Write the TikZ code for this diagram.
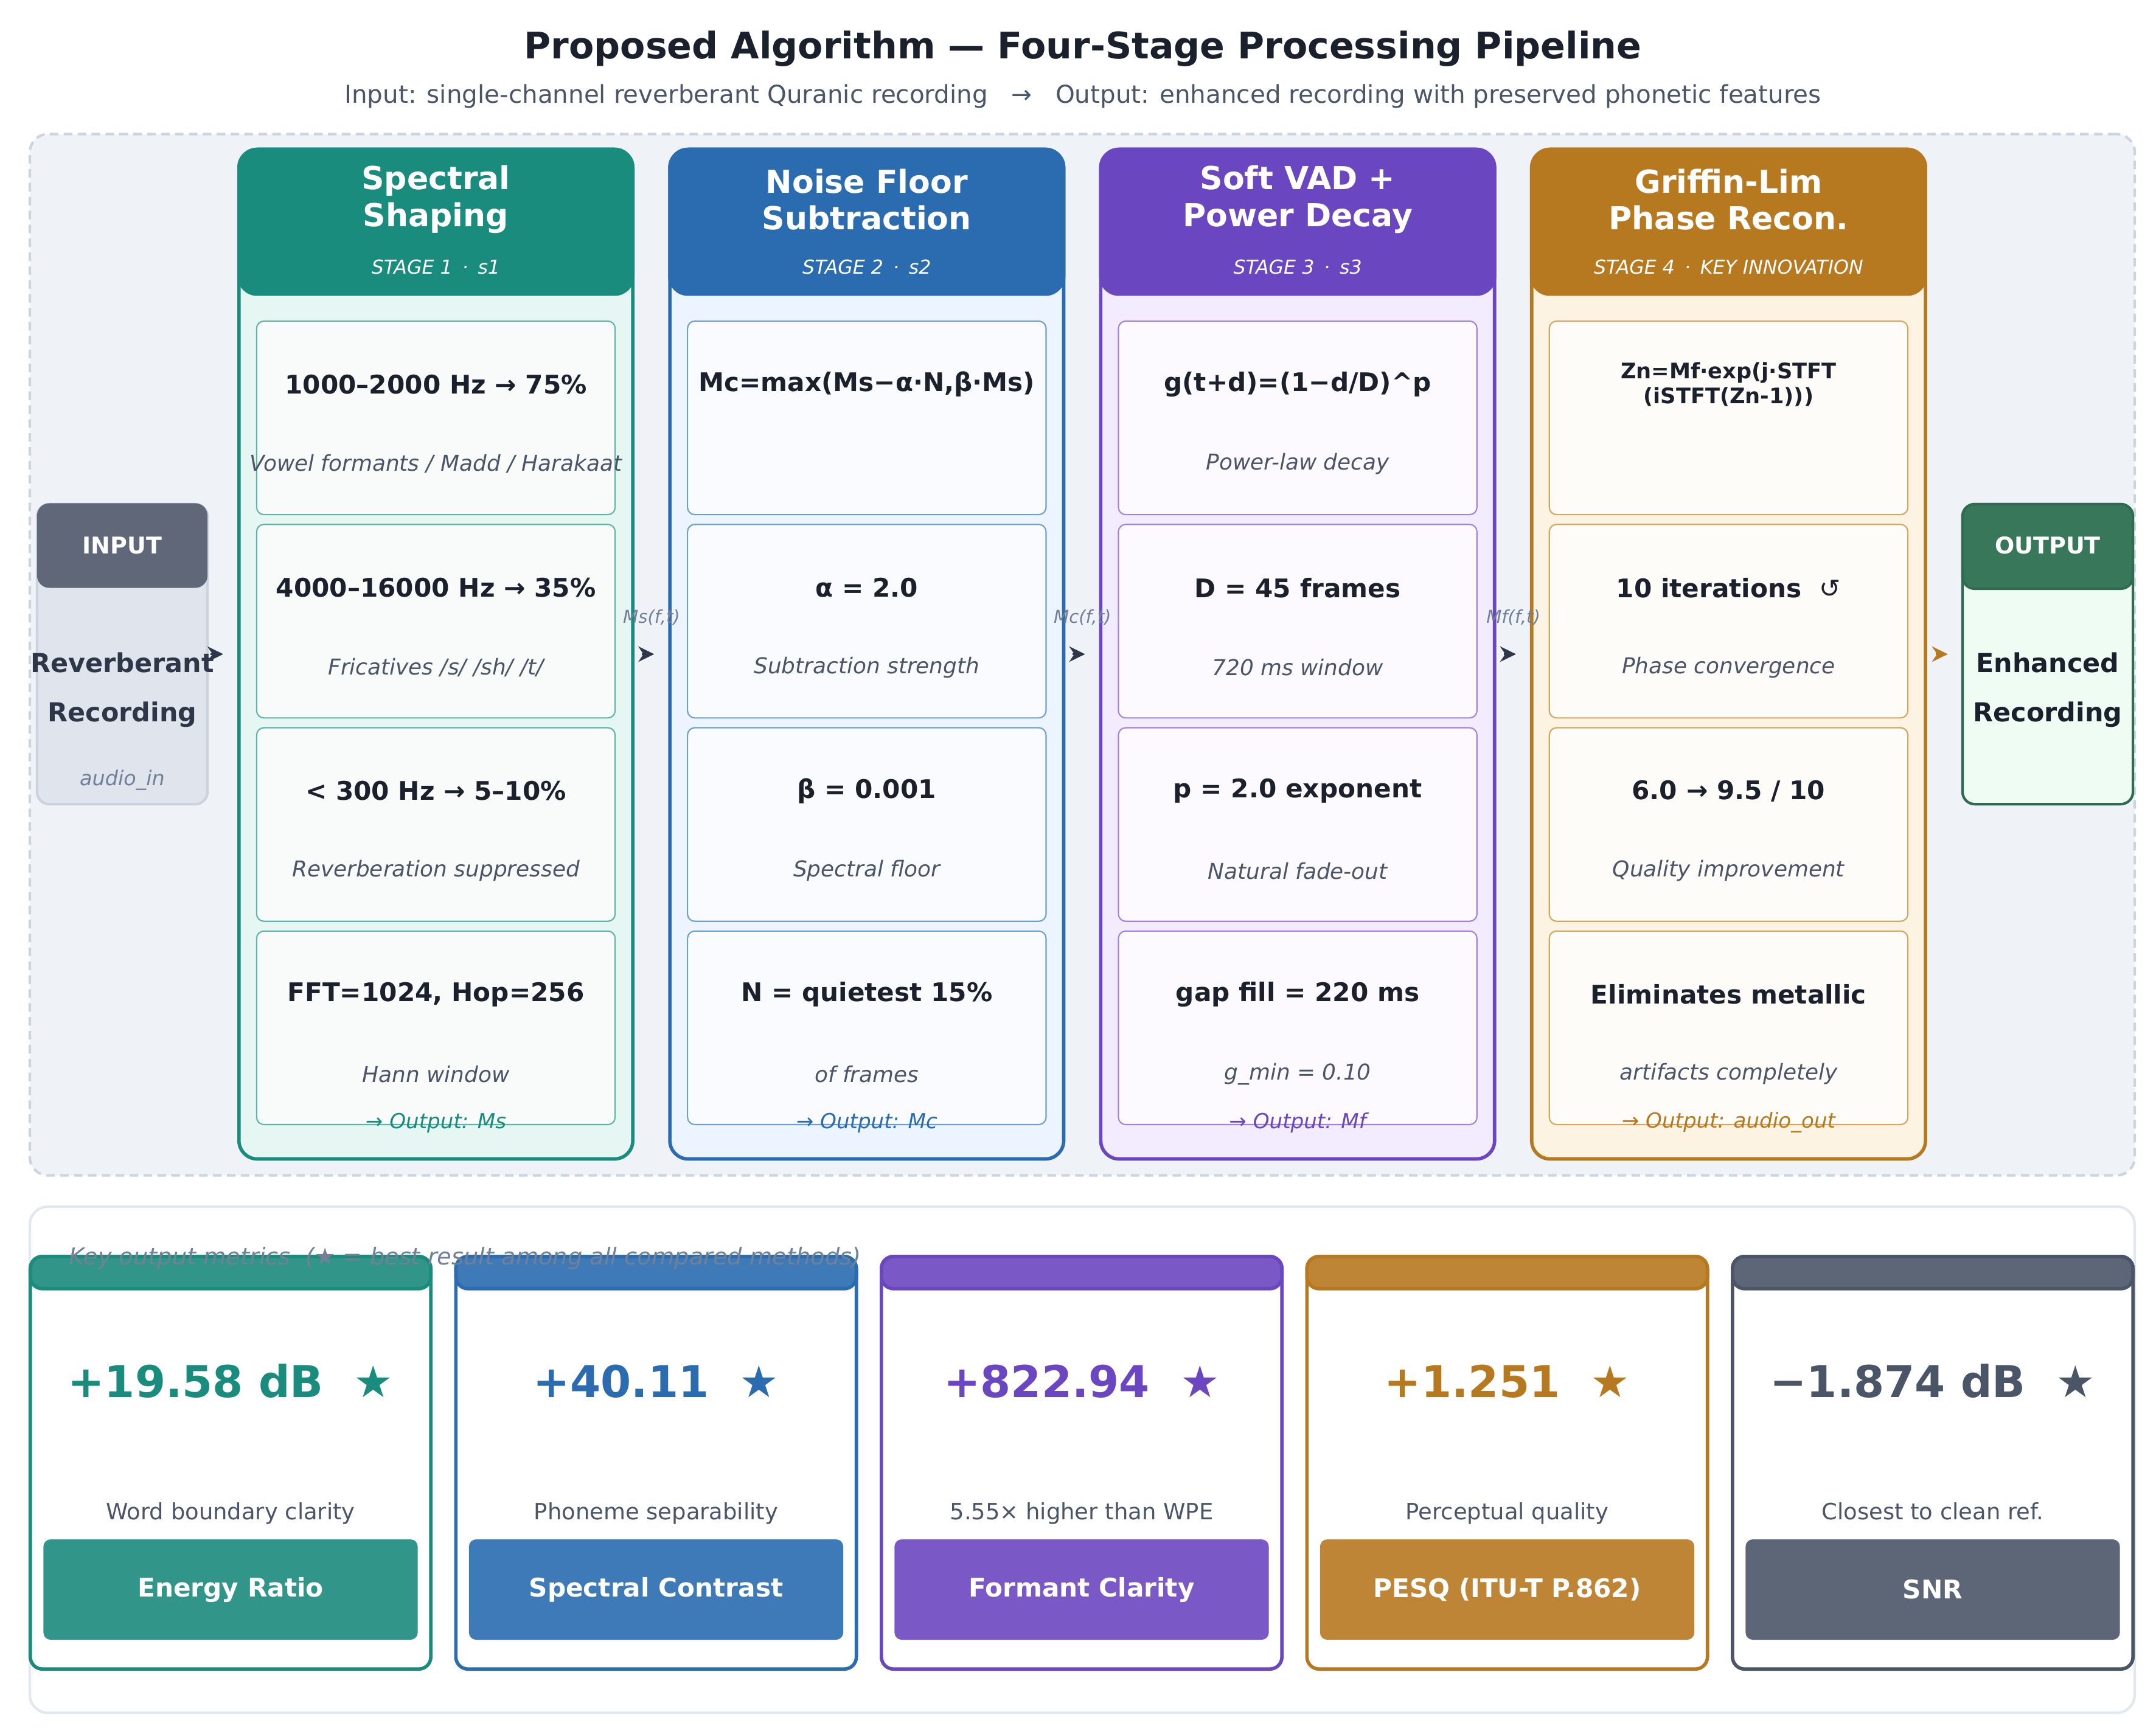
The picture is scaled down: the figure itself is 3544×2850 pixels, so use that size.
\documentclass[tikz,border=0pt]{standalone}
\usepackage{fontspec}
\setmainfont{DejaVu Sans}
\newfontfamily\symfont{DejaVu Sans}
\usetikzlibrary{arrows.meta,positioning}
\definecolor{inkdark}{HTML}{1A202C}
\definecolor{inksub}{HTML}{4A5568}
\definecolor{inkmute}{HTML}{718096}
\definecolor{inkarrow}{HTML}{2D3748}
\definecolor{panelbg}{HTML}{EFF3F8}
\definecolor{panelbd}{HTML}{CBD5E1}
\definecolor{metbd}{HTML}{E2E8F0}
% stage colours
\definecolor{stage0}{HTML}{1A8C7D}\definecolor{stage0bg}{HTML}{E6F6F3}
\definecolor{stage0ln}{HTML}{5DB5A8}\definecolor{stage0cell}{HTML}{F8FBFA}
\definecolor{stage1}{HTML}{2B6CB0}\definecolor{stage1bg}{HTML}{EBF4FF}
\definecolor{stage1ln}{HTML}{6F9ED3}\definecolor{stage1cell}{HTML}{F9FBFE}
\definecolor{stage2}{HTML}{6B46C1}\definecolor{stage2bg}{HTML}{F3ECFE}
\definecolor{stage2ln}{HTML}{A282E0}\definecolor{stage2cell}{HTML}{FCFAFF}
\definecolor{stage3}{HTML}{B7791F}\definecolor{stage3bg}{HTML}{FDF3E2}
\definecolor{stage3ln}{HTML}{D6A65E}\definecolor{stage3cell}{HTML}{FEFCF8}
% metric colours
\definecolor{met0}{HTML}{1A8C7D}\definecolor{met0bar}{HTML}{319689}
\definecolor{met1}{HTML}{2B6CB0}\definecolor{met1bar}{HTML}{3F7AB8}
\definecolor{met2}{HTML}{6B46C1}\definecolor{met2bar}{HTML}{7A59C6}
\definecolor{met3}{HTML}{B7791F}\definecolor{met3bar}{HTML}{BF8536}
\definecolor{met4}{HTML}{4A5568}\definecolor{met4bar}{HTML}{5C6677}
% input / output colours
\definecolor{inhead}{HTML}{5F6779}
\definecolor{inbg}{HTML}{E0E4EC}
\definecolor{inbd}{HTML}{CDD3DC}
\definecolor{outhead}{HTML}{38775A}
\definecolor{outbd}{HTML}{2F6B4F}
\definecolor{outbg}{HTML}{EFFCF3}

\begin{document}
\begin{tikzpicture}[x=0.01cm,y=-0.01cm,
    every node/.style={inner sep=0pt,align=center},
    panel/.style={draw=panelbd,fill=panelbg,line width=1.2pt,dash pattern=on 4pt off 2.5pt,rounded corners=0.3cm,minimum width=34.58cm,minimum height=17.11cm},
    metpanel/.style={draw=metbd,fill=white,line width=1.2pt,rounded corners=0.3cm,minimum width=34.58cm,minimum height=8.32cm},
    stagecol/.style={draw=#1,fill=#1bg,line width=1.6pt,rounded corners=0.3cm,minimum width=6.47cm,minimum height=16.59cm},
    stagehead/.style={draw=#1,fill=#1,line width=1.6pt,rounded corners=0.3cm,minimum width=6.47cm,minimum height=2.38cm},
    headtitle/.style={text=white,font=\fontsize{14.8}{17.2}\selectfont\bfseries},
    headtag/.style={text=white,font=\fontsize{9}{10}\selectfont\itshape},
    cellbox/.style={draw=#1ln,fill=#1cell,line width=0.6pt,rounded corners=0.12cm,minimum width=5.89cm,minimum height=3.18cm},
    cellmain/.style={text=inkdark,font=\fontsize{12}{14}\selectfont\bfseries},
    cellsub/.style={text=inksub,font=\fontsize{10.2}{12}\selectfont\itshape},
    outtxt/.style={font=\fontsize{9.7}{11}\selectfont\itshape},
    flow/.style={draw=inkarrow,line width=1pt,-{Stealth[length=7.4pt,width=7.2pt,inset=2.4pt]}},
    flowlbl/.style={text=inkmute,font=\fontsize{8.3}{10}\selectfont\itshape},
    iobox/.style={line width=1.2pt,rounded corners=0.2cm,minimum width=2.8cm,minimum height=4.93cm},
    iohead/.style={rounded corners=0.2cm,minimum width=2.8cm,minimum height=1.39cm},
    iotag/.style={text=white,font=\fontsize{10.8}{13}\selectfont\bfseries},
    iotext/.style={text=inkarrow,font=\fontsize{12.2}{23}\selectfont\bfseries},
    metcard/.style={draw=#1,fill=white,line width=1.6pt,rounded corners=0.2cm,minimum width=6.58cm,minimum height=6.78cm},
    metbar/.style={draw=#1,fill=#1bar,line width=1.6pt,rounded corners=0.2cm,minimum width=6.58cm,minimum height=0.53cm},
    metval/.style={font=\fontsize{20.5}{24}\selectfont\bfseries},
    metdsc/.style={text=inksub,anchor=base,font=\fontsize{10.5}{12}\selectfont},
    metlab/.style={fill=#1bar,text=white,rounded corners=0.12cm,minimum width=6.15cm,minimum height=1.65cm,font=\fontsize{12}{14}\selectfont\bfseries},
    capt/.style={text=inkmute,font=\fontsize{10.9}{13}\selectfont\itshape}]
  \fill[white] (0,0) rectangle (3544,2850);
  \useasboundingbox (0,0) rectangle (3544,2850);

  % Title
  \node[text=inkdark,font=\fontsize{17.1}{21}\selectfont\bfseries] (title) at (1780,80)
       {Proposed Algorithm — Four-Stage Processing Pipeline};
  \node[text=inksub,font=\fontsize{11.5}{14}\selectfont] (subtitle) at (1780,158)
       {Input: single-channel reverberant Quranic recording\ \ \ →\ \ \ Output: enhanced recording with preserved phonetic features};

  % Pipeline panel
  \node[panel] (pipe) at (1779,1076.5) {};

  % Stage columns
  \foreach \i/\ta/\tb/\stg in {0/Spectral/Shaping/{STAGE 1\enspace·\enspace s1},
                               1/Noise Floor/Subtraction/{STAGE 2\enspace·\enspace s2},
                               2/{Soft VAD +}/{Power Decay}/{STAGE 3\enspace·\enspace s3},
                               3/Griffin-Lim/{Phase Recon.}/{STAGE 4\enspace·\enspace KEY INNOVATION}}{
    \node[stagecol=stage\i] (col\i) at (716.5+708.3*\i,1075.5) {};
    \node[stagehead=stage\i,anchor=north] (head\i) at (col\i.north) {};
    \node[headtitle] (ht\i) at (716.5+708.3*\i,328) {\ta\\\tb};
    \node[headtag] (tag\i) at (716.5+708.3*\i,439) {\stg};
  }

  % Parameter cells
  \foreach \i/\j/\ma/\sb in {0/0/{1000–2000 Hz → 75\%}/{Vowel formants / Madd / Harakaat},
                             0/1/{4000–16000 Hz → 35\%}/{Fricatives /s/ /sh/ /t/},
                             0/2/{< 300 Hz → 5–10\%}/{Reverberation suppressed},
                             0/3/{FFT=1024, Hop=256}/{Hann window},
                             1/0/{Mc=max(Ms−α·N,β·Ms)}/{},
                             1/1/{α = 2.0}/{Subtraction strength},
                             1/2/{β = 0.001}/{Spectral floor},
                             1/3/{N = quietest 15\%}/{of frames},
                             2/0/{g(t+d)=(1−d/D)\textasciicircum p}/{Power-law decay},
                             2/1/{D = 45 frames}/{720 ms window},
                             2/2/{p = 2.0 exponent}/{Natural fade-out},
                             2/3/{gap fill = 220 ms}/{g\_min = 0.10},
                             3/0/{}/{},
                             3/1/{10 iterations\ \ {\symfont\mdseries ↺}}/{Phase convergence},
                             3/2/{6.0 → 9.5 / 10}/{Quality improvement},
                             3/3/{Eliminates metallic}/{artifacts completely}}{
    \node[cellbox=stage\i] (cell\i\j) at (716.5+708.3*\i,687+334.3*\j) {};
    \node[cellmain] (cm\i\j) at (716.5+708.3*\i,632+334.3*\j) {\ma};
    \node[cellsub] (cs\i\j) at (716.5+708.3*\i,763+334.3*\j) {\sb};
  }
  \node[cellmain,font=\fontsize{10}{11.7}\selectfont\bfseries] (gl) at (2841.4,632)
       {Zn=Mf·exp(j·STFT\\(iSTFT(Zn-1)))};

  % Stage outputs
  \foreach \i/\res in {0/Ms,1/Mc,2/Mf,3/audio\_out}
    \node[outtxt,text=stage\i] (out\i) at (716.5+708.3*\i,1846) {→ Output: \res};

  % Input and output blocks
  \node[iobox,draw=inbd,fill=inbg] (inbox) at (201,1075.5) {};
  \node[iohead,fill=inhead,anchor=north] (inhd) at (inbox.north) {};
  \node[iotag] (intag) at (201,897) {INPUT};
  \node[iotext] (intext) at (201,1134) {Reverberant\\Recording};
  \node[text=inkmute,font=\fontsize{9.5}{11}\selectfont\itshape] (inid) at (201,1283) {audio\_in};

  \node[iobox,draw=outbd,fill=outbg] (outbox) at (3366,1075.5) {};
  \node[iohead,draw=outbd,line width=1.2pt,fill=outhead,anchor=north] (outhd) at (outbox.north) {};
  \node[iotag] (outtag) at (3366,897) {OUTPUT};
  \node[iotext,text=inkdark] (outtext) at (3366,1134) {Enhanced\\Recording};

  % Flow arrows
  \draw[flow,shorten <=0.03cm,shorten >=0.23cm] (inbox.east) -- (col0.west);
  \foreach \a/\b in {0/1,1/2,2/3}
    \draw[flow,shorten <=0.12cm,shorten >=0.23cm] (col\a.east) -- (col\b.west);
  \draw[flow,draw=stage3,shorten <=0.14cm,shorten >=0.22cm] (col3.east) -- (outbox.west);
  \foreach \i/\lbl in {0/{Ms(f,t)},1/{Mc(f,t)},2/{Mf(f,t)}}
    \node[flowlbl] (fl\i) at (1071+708.3*\i,1015) {\lbl};

  % Metrics panel
  \node[metpanel] (metrics) at (1779,2400) {};
  \foreach \k/\val/\dsc/\lab in {0/{+19.58 dB}/{Word boundary clarity}/{Energy Ratio},
                                 1/{+40.11}/{Phoneme separability}/{Spectral Contrast},
                                 2/{+822.94}/{5.55× higher than WPE}/{Formant Clarity},
                                 3/{+1.251}/{Perceptual quality}/{PESQ (ITU-T P.862)},
                                 4/{−1.874 dB}/{Closest to clean ref.}/{SNR}}{
    \node[metcard=met\k] (card\k) at (379+699.5*\k,2405) {};
    \node[metbar=met\k,anchor=north] (bar\k) at (card\k.north) {};
    \node[metval,text=met\k] (val\k) at (379+699.5*\k,2271) {\val\ \ {\symfont\mdseries ★}};
    \node[metdsc] (dsc\k) at (379+699.5*\k,2498) {\dsc};
    \node[metlab=met\k] (lab\k) at (379+699.5*\k,2613.5) {\lab};
  }
  \node[capt,anchor=west] (metcap) at (113,2069)
       {Key output metrics\ \ ({\symfont\mdseries ★} = best result among all compared methods)};
\end{tikzpicture}
\end{document}
